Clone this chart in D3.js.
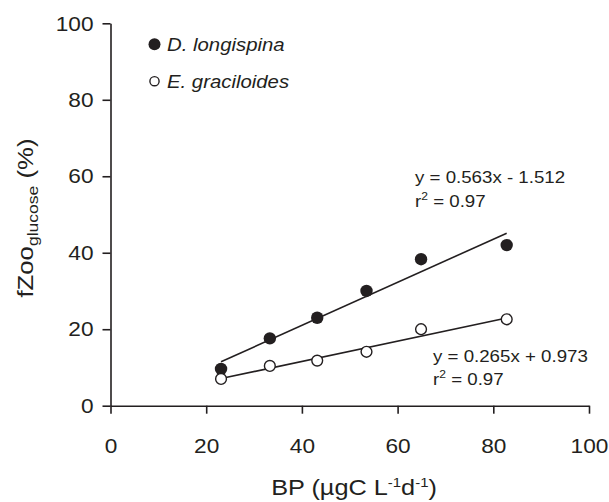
<!DOCTYPE html>
<html>
<head>
<meta charset="utf-8">
<script src="https://cdn.jsdelivr.net/npm/d3@7"></script>
<style>
  body { margin: 0; background: #fff; }
  text { font-family: "Liberation Sans", Arial, sans-serif; fill: #231f20; }
</style>
</head>
<body>
<div id="chart"></div>
<script>
// data
const bp = [23.1, 33.3, 43.2, 53.5, 64.9, 82.8];
const dLongispina = [9.6, 17.6, 23.0, 30.0, 38.3, 42.0];
const eGraciloides = [7.0, 10.4, 11.8, 14.1, 20.0, 22.6];
const xTicks = [0, 20, 40, 60, 80, 100];
const yTicks = [0, 20, 40, 60, 80, 100];
const fits = [
  {slope: 0.563, icept: -1.512, eq: "y = 0.563x - 1.512", r2: "0.97"},
  {slope: 0.265, icept: 0.973, eq: "y = 0.265x + 0.973", r2: "0.97"}
];
const seriesNames = ["D. longispina", "E. graciloides"];

const width = 609, height = 502;
const ink = "#231f20";

let svg = d3.select("#chart")
  .append("svg")
  .attr("width", width)
  .attr("height", height);

let x = d3.scaleLinear().domain([0, 100]).range([110.5, 589]);
let y = d3.scaleLinear().domain([0, 100]).range([405.7, 23.3]);

// widen a text along its own direction around its anchor (figure font is wide)
function widen(sel, k) {
  sel.each(function() {
    let t = d3.select(this);
    let tx = +t.attr("x") || 0, ty = +t.attr("y") || 0;
    t.attr("x", 0).attr("y", 0)
      .attr("transform", `translate(${tx},${ty}) scale(${k},1)`);
  });
}

let xAxis = svg.append("g")
  .attr("transform", `translate(0,${y(0)})`)
  .call(d3.axisBottom(x).tickValues(xTicks).tickSize(8).tickSizeOuter(0).tickPadding(24));

let yAxis = svg.append("g")
  .attr("transform", `translate(${x(0)},0)`)
  .call(d3.axisLeft(y).tickValues(yTicks).tickSize(8).tickSizeOuter(0).tickPadding(9));

[xAxis, yAxis].forEach(function(a) {
  a.selectAll("path, line").attr("stroke", ink).attr("stroke-width", 1.6);
  a.selectAll("text")
    .attr("fill", ink)
    .style("font-size", "21px")
    .style("font-family", "'Liberation Sans', Arial, sans-serif");
  widen(a.selectAll("text"), 1.08);
});

// regression lines
fits.forEach(function(f) {
  let x0 = d3.min(bp), x1 = d3.max(bp);
  svg.append("line")
    .attr("x1", x(x0)).attr("y1", y(f.slope * x0 + f.icept))
    .attr("x2", x(x1)).attr("y2", y(f.slope * x1 + f.icept))
    .attr("stroke", ink)
    .attr("stroke-width", 1.6);
});

// points
svg.selectAll("circle.dl")
  .data(d3.zip(bp, dLongispina))
  .enter().append("circle")
  .attr("class", "dl")
  .attr("cx", d => x(d[0]))
  .attr("cy", d => y(d[1]))
  .attr("r", 6.2)
  .attr("fill", ink);

svg.selectAll("circle.eg")
  .data(d3.zip(bp, eGraciloides))
  .enter().append("circle")
  .attr("class", "eg")
  .attr("cx", d => x(d[0]))
  .attr("cy", d => y(d[1]))
  .attr("r", 5.4)
  .attr("fill", "#fff")
  .attr("stroke", ink)
  .attr("stroke-width", 1.4);

// equations
let eqPos = [{x: 415, y: 183.3}, {x: 433, y: 361.5}];
fits.forEach(function(f, i) {
  let g = svg.append("g")
    .attr("transform", `translate(${eqPos[i].x},${eqPos[i].y}) scale(1.1,1)`)
    .style("font-size", "17px");
  g.append("text").text(f.eq);
  let r = g.append("text").attr("y", 24);
  r.append("tspan").text("r");
  r.append("tspan").attr("dy", -7).style("font-size", "11px").text("2");
  r.append("tspan").attr("dy", 7).text(" = " + f.r2);
});

// legend
let legY = [44.3, 81.2];
seriesNames.forEach(function(name, i) {
  if (i === 0) {
    svg.append("circle").attr("cx", 154.5).attr("cy", legY[i]).attr("r", 6).attr("fill", ink);
  } else {
    svg.append("circle").attr("cx", 154.5).attr("cy", legY[i]).attr("r", 4.6)
      .attr("fill", "#fff").attr("stroke", ink).attr("stroke-width", 1.4);
  }
  svg.append("g")
    .attr("transform", `translate(167,${legY[i] + 7}) scale(1.1,1)`)
    .append("text")
    .style("font-size", "18.5px")
    .style("font-style", "italic")
    .text(name);
});

// axis titles
let xt = svg.append("g")
  .attr("transform", `translate(354,495) scale(1.15,1)`)
  .append("text")
  .attr("text-anchor", "middle")
  .style("font-size", "22px");
xt.append("tspan").text("BP (µgC L");
xt.append("tspan").attr("dy", -8).style("font-size", "13px").text("-1");
xt.append("tspan").attr("dy", 8).text("d");
xt.append("tspan").attr("dy", -8).style("font-size", "13px").text("-1");
xt.append("tspan").attr("dy", 8).text(")");

let yt = svg.append("g")
  .attr("transform", `translate(33,218) rotate(-90) scale(1.17,1)`)
  .append("text")
  .attr("text-anchor", "middle")
  .style("font-size", "22px");
yt.append("tspan").text("fZoo");
yt.append("tspan").attr("dy", 5).style("font-size", "15px").text("glucose");
yt.append("tspan").attr("dy", -5).text(" (%)");
</script>
</body>
</html>
